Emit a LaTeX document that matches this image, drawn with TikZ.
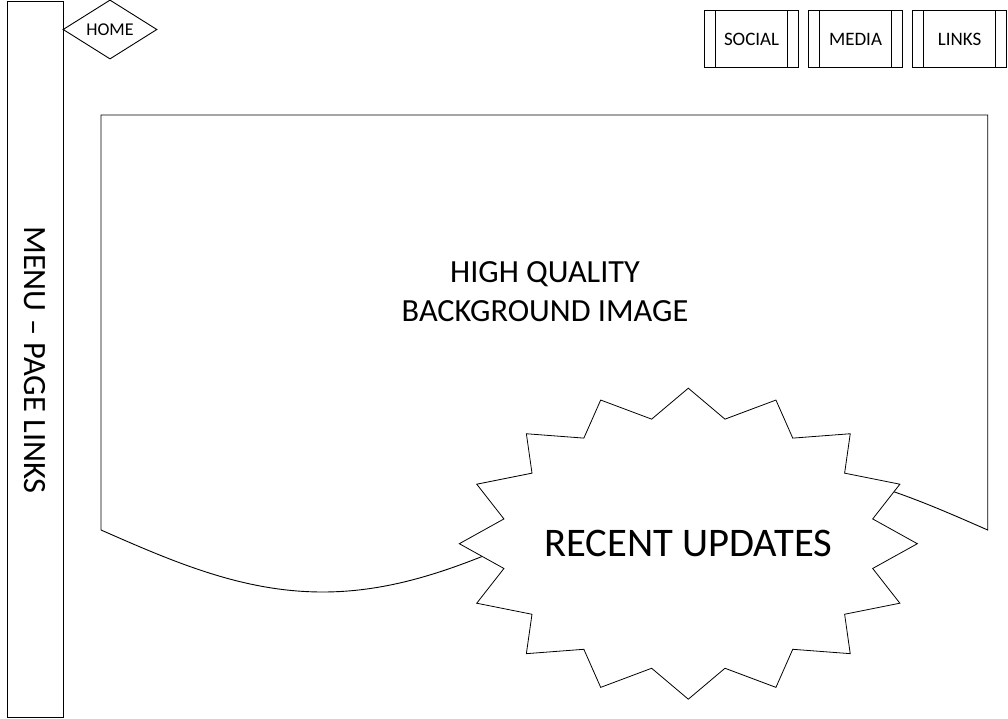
\documentclass[tikz,border=0pt]{standalone}
\usepackage{fontspec}
\setmainfont{Carlito}
\usetikzlibrary{shapes.geometric}
\begin{document}
\begin{tikzpicture}[x=1pt,y=-1pt,line width=0.9pt,
  pbox/.style={draw,rectangle,minimum width=94.5pt,minimum height=57pt,inner sep=0pt,font=\fontsize{19}{22}\selectfont},
  homebox/.style={draw,diamond,minimum width=94pt,minimum height=55pt,inner sep=0pt,font=\fontsize{18}{21}\selectfont},
  bigtext/.style={font=\fontsize{32.3}{39}\selectfont,align=center,inner sep=0pt}]
\useasboundingbox (0,0) rectangle (1008,719);
% menu bar
\node[draw,rectangle,minimum width=56pt,minimum height=716pt,inner sep=0pt] (menu) at (35,359) {};
\node[bigtext,rotate=-90,font=\fontsize{32.5}{39}\selectfont] (menutext) at (35,360) {MENU – PAGE LINKS};
% home
\node[homebox] (home) at (110,29.5) {HOME};
% social buttons
\foreach \n/\t/\xx in {soc/SOCIAL/751.6, med/MEDIA/855.5, lnk/LINKS/959.5}{
  \node[pbox] (\n) at (\xx,39.2) {\t};
  \draw ([xshift=12pt]\n.north west) -- ([xshift=12pt]\n.south west);
  \draw ([xshift=-12pt]\n.north east) -- ([xshift=-12pt]\n.south east);
}
% background image shape
\coordinate (bgtl) at (101,115);
\coordinate (bgtr) at (987.7,115);
\coordinate (bgbr) at (987.7,530);
\draw (101,530) -- (bgtl) -- (bgtr) -- (bgbr)
  -- plot[domain=987.7:101,samples=120,smooth] (\x,{530+62*sin(0.406*(\x-101))});
\node[bigtext] (bgtext) at (545,292) {HIGH QUALITY\\BACKGROUND IMAGE};
% starburst
\begin{scope}[shift={(688.3,543.7)}]
  \draw[fill=white,line width=0.8pt] (90:229 and 155.5)
    \foreach \i in {0,...,15}{ -- ({90-22.5*\i-11.25}:188 and 127) -- ({90-22.5*(\i+1)}:229 and 155.5)} -- cycle;
\end{scope}
\node[font=\fontsize{40.6}{46}\selectfont,inner sep=0pt] (upd) at (688.3,543.7) {RECENT UPDATES};
\end{tikzpicture}
\end{document}
